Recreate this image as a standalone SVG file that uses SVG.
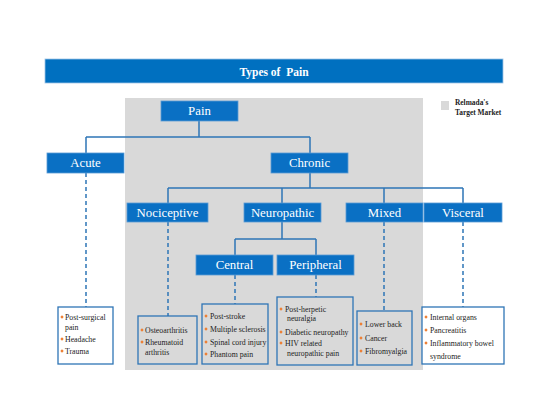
<svg xmlns="http://www.w3.org/2000/svg" xmlns:xlink="http://www.w3.org/1999/xlink" width="549" height="411" viewBox="0 0 549 411" font-family="Liberation Serif, Times New Roman, serif">
<style>
.box{fill:#0a70c4;stroke:#5b9bd5;stroke-width:0.8}
.lbl{font-size:12.8px;fill:#fff;text-anchor:middle;dominant-baseline:central}
.list{fill:none;stroke:#2e75b6;stroke-width:1.3}
.wlist{fill:#fff;stroke:#2e75b6;stroke-width:1.3}
.t{font-size:7.8px;fill:#222}
.ln{fill:none;stroke:#2e75b6;stroke-width:1.5}
.dash{fill:none;stroke:#2e75b6;stroke-width:1.5;stroke-dasharray:4,3}
</style>
<defs>
<path id="b" d="M0,-1.7 L1.7,0 L0,1.7 L-1.7,0Z" fill="#ed7d31"/>
</defs>
<rect width="549" height="411" fill="#fff"/>
<rect x="125" y="98" width="298" height="272" fill="#d9d9d9"/>
<g id="title">
<rect x="45" y="59" width="458" height="24" fill="#0070c0" stroke="#9dc3e6" stroke-width="0.8"/>
<text x="274" y="71.5" font-size="11.5" font-weight="bold" fill="#fff" text-anchor="middle" dominant-baseline="central" xml:space="preserve">Types of  Pain</text>
</g>
<g id="legend">
<rect x="441" y="101" width="8" height="9" fill="#d9d9d9"/>
<text x="455" y="105" font-size="7.4" font-weight="bold" fill="#222">Relmada's</text>
<text x="455" y="115" font-size="7.4" font-weight="bold" fill="#222">Target Market</text>
</g>
<g id="connectors">
<path class="ln" d="M199,121 V137 M86,137 H310 M86,137 V153 M310,137 V153"/>
<path class="ln" d="M310,173 V188 M168,188 H463 M168,188 V203 M282,188 V203 M384,188 V203 M463,188 V203"/>
<path class="ln" d="M282,222 V239 M235,239 H316 M235,239 V255 M316,239 V255"/>
<path class="dash" d="M86,173 V307 M168,222 V316 M235,275 V304 M316,275 V297 M384,222 V311 M463,222 V307"/>
</g>
<g id="pain"><rect class="box" x="161" y="101" width="77" height="20"/><text class="lbl" x="199.5" y="111">Pain</text></g>
<g id="acute"><rect class="box" x="47" y="153" width="77" height="20"/><text class="lbl" x="85.5" y="163">Acute</text></g>
<g id="chronic"><rect class="box" x="271" y="153" width="77" height="20"/><text class="lbl" x="309.5" y="163">Chronic</text></g>
<g id="nociceptive"><rect class="box" x="127" y="203" width="81" height="19"/><text class="lbl" x="167.5" y="212.5">Nociceptive</text></g>
<g id="neuropathic"><rect class="box" x="244" y="203" width="77" height="19"/><text class="lbl" x="282.5" y="212.5">Neuropathic</text></g>
<g id="mixed"><rect class="box" x="346" y="203" width="77" height="19"/><text class="lbl" x="384.5" y="212.5">Mixed</text></g>
<g id="visceral"><rect class="box" x="424" y="203" width="78" height="19"/><text class="lbl" x="463" y="212.5">Visceral</text></g>
<g id="central"><rect class="box" x="196" y="255" width="77" height="20"/><text class="lbl" x="234.5" y="265">Central</text></g>
<g id="peripheral"><rect class="box" x="277" y="255" width="77" height="20"/><text class="lbl" x="315.5" y="265">Peripheral</text></g>
<g id="acute-list">
<rect class="wlist" x="58" y="307" width="55" height="57"/>
<use xlink:href="#b" x="62" y="317"/><text class="t" x="65" y="319.5">Post-surgical</text>
<text class="t" x="65" y="329.5">pain</text>
<use xlink:href="#b" x="62" y="339"/><text class="t" x="65" y="341.5">Headache</text>
<use xlink:href="#b" x="62" y="351"/><text class="t" x="65" y="353.5">Trauma</text>
</g>
<g id="nociceptive-list">
<rect class="list" x="138" y="316" width="59" height="48"/>
<use xlink:href="#b" x="142" y="330"/><text class="t" x="145" y="332.5">Osteoarthritis</text>
<use xlink:href="#b" x="142" y="342"/><text class="t" x="145" y="344.5">Rheumatoid</text>
<text class="t" x="145" y="354.5">arthritis</text>
</g>
<g id="central-list">
<rect class="list" x="202" y="304" width="66" height="60"/>
<use xlink:href="#b" x="206" y="316"/><text class="t" x="210" y="318.5">Post-stroke</text>
<use xlink:href="#b" x="206" y="329"/><text class="t" x="210" y="331.5">Multiple sclerosis</text>
<use xlink:href="#b" x="206" y="342"/><text class="t" x="210" y="344.5">Spinal cord injury</text>
<use xlink:href="#b" x="206" y="354"/><text class="t" x="210" y="356.5">Phantom pain</text>
</g>
<g id="peripheral-list">
<rect class="list" x="277" y="297" width="76" height="68"/>
<use xlink:href="#b" x="281" y="309"/><text class="t" x="285" y="311.5">Post-herpetic</text>
<text class="t" x="287" y="321">neuralgia</text>
<use xlink:href="#b" x="281" y="332"/><text class="t" x="285" y="334.5">Diabetic neuropathy</text>
<use xlink:href="#b" x="281" y="343"/><text class="t" x="285" y="345.5">HIV related</text>
<text class="t" x="287" y="355.5">neuropathic pain</text>
</g>
<g id="mixed-list">
<rect class="list" x="357" y="311" width="55" height="54"/>
<use xlink:href="#b" x="361" y="324"/><text class="t" x="365" y="326.5">Lower back</text>
<use xlink:href="#b" x="361" y="338"/><text class="t" x="365" y="340.5">Cancer</text>
<use xlink:href="#b" x="361" y="351"/><text class="t" x="365" y="353.5">Fibromyalgia</text>
</g>
<g id="visceral-list">
<rect class="wlist" x="422" y="307" width="82" height="57"/>
<use xlink:href="#b" x="426" y="317"/><text class="t" x="430" y="319.5">Internal organs</text>
<use xlink:href="#b" x="426" y="330"/><text class="t" x="430" y="332.5">Pancreatitis</text>
<use xlink:href="#b" x="426" y="343"/><text class="t" x="430" y="345.5">Inflammatory bowel</text>
<text class="t" x="430" y="358.5">syndrome</text>
</g>
</svg>
